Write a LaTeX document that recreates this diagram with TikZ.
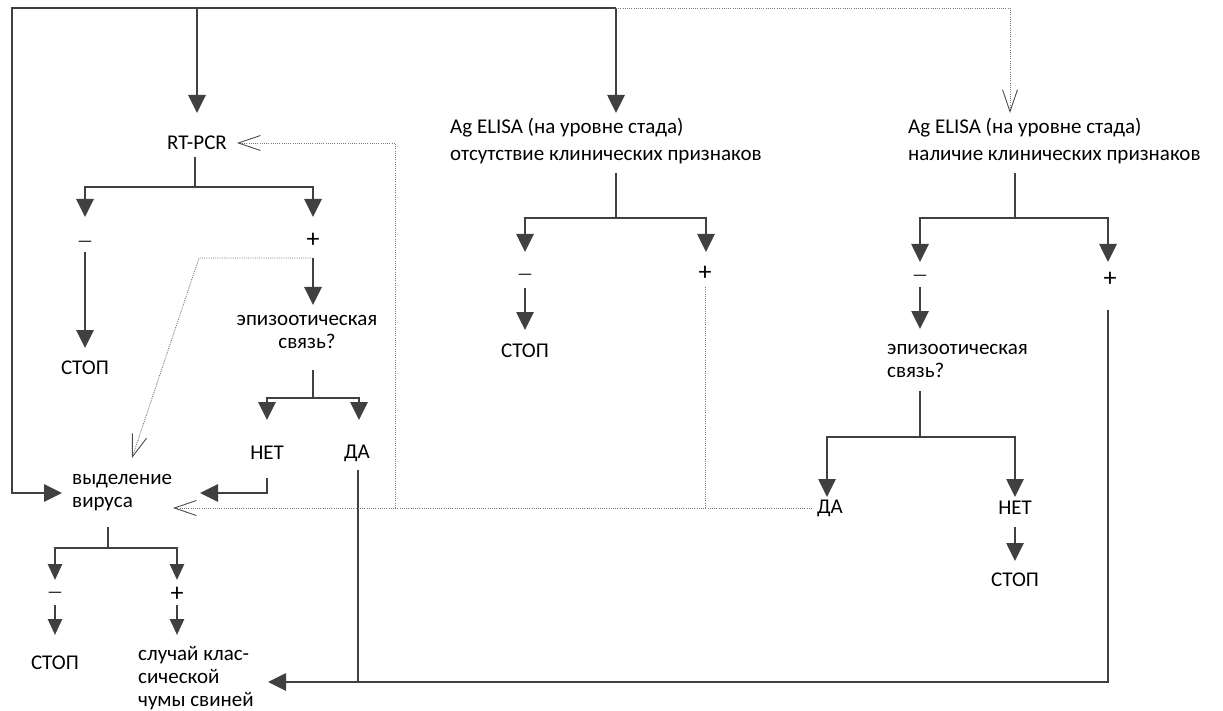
\documentclass[tikz,border=0pt]{standalone}
\usepackage{fontspec}
\setmainfont{Carlito}
\usetikzlibrary{arrows.meta}
\definecolor{lc}{HTML}{404040}
\definecolor{dc}{HTML}{7A7A7A}
\begin{document}
\begin{tikzpicture}[x=1pt,y=-1pt,
  txt/.style={inner sep=0pt, font=\fontsize{21}{23}\selectfont, text=black},
  txtw/.style={txt, font=\fontsize{21}{27}\selectfont},
  sgn/.style={inner sep=0pt, font=\fontsize{26}{26}\selectfont, text=black},
  msgn/.style={inner sep=0pt, font=\fontsize{17}{17}\selectfont, text=black},
  arr/.style={draw=lc, line width=2.7pt, -{Triangle[width=17pt,length=18pt]}},
  sarr/.style={draw=lc, line width=2.7pt, -{Triangle[width=14pt,length=16pt]}},
  ln/.style={draw=lc, line width=2.7pt},
  dotl/.style={draw=dc, line width=0.9pt, dash pattern=on 1pt off 1.2pt},
  oarr/.style={dotl, -{Straight Barb[length=22pt,width=15pt,line width=0.9pt,color=black!70]}}
]
\useasboundingbox (0,0) rectangle (1223,711);
\fill[white] (0,0) rectangle (1223,711);

% ---------- text nodes ----------
\node[txt] (rtpcr) at (197,143) {RT-PCR};
\node[txtw,align=left,anchor=west] (el1) at (450,141) {Ag ELISA (на уровне стада)\\отсутствие клинических признаков};
\node[txtw,align=left,anchor=west] (el2) at (908,141) {Ag ELISA (на уровне стада)\\наличие клинических признаков};

\node[msgn] (m1) at (85,244) {\textemdash};
\node[sgn] (p1) at (313,240) {+};
\node[txt] (stop1) at (85,368) {СТОП};
\node[txt,align=center] (epi1) at (307,332) {эпизоотическая\\связь?};
\node[txt] (net1) at (267,453) {НЕТ};
\node[txt] (da1) at (357,453) {ДА};

\node[txt,align=left,anchor=west] (virus) at (72,493) {выделение\\вируса};
\node[msgn] (m4) at (55,595) {\textemdash};
\node[sgn] (p4) at (177,594) {+};
\node[txt] (stop4) at (55,663) {СТОП};
\node[txt,align=left,anchor=west] (case) at (138,678) {случай клас-\\сической\\чумы свиней};

\node[msgn] (m2) at (525,277) {\textemdash};
\node[sgn] (p2) at (705,273) {+};
\node[txt] (stop2) at (525,351) {СТОП};

\node[msgn] (m3) at (920,278) {\textemdash};
\node[sgn] (p3) at (1110,279) {+};
\node[txt,align=left,anchor=west] (epi2) at (887,361) {эпизоотическая\\связь?};
\node[txt] (da3) at (830,508) {ДА};
\node[txt] (net3) at (1015,508) {НЕТ};
\node[txt] (stop3) at (1015,580) {СТОП};

% ---------- junction coordinates ----------
\coordinate (tl) at (12,8);
\coordinate (tm) at (616,8);
\coordinate (trc) at (197,8);
\coordinate (tr) at (1010,8);

% ---------- solid connectors ----------
\draw[arr] (tm) -- (tl) -- (12,493) -- (62,493);
\draw[arr] (trc) -- (197,113);
\draw[arr] (tm) -- (616,113);

% RT-PCR branch
\draw[ln] (195,157) -- (195,187);
\draw[arr] (195,187) -| (85,217);
\draw[arr] (195,187) -| (313,217);
\draw[arr] (85,252) -- (85,348);
\draw[arr] (313,258) -- (313,305);
\draw[ln] (313,370) -- (313,398);
\draw[arr] (313,398) -| (267,420);
\draw[arr] (313,398) -| (359,420);
\draw[arr] (267,478) -- (267,493) -- (200,493);
\draw[ln] (358,470) -- (358,682);

% virus isolation branch
\draw[ln] (108,527) -- (108,548);
\draw[sarr] (108,548) -| (55,580);
\draw[sarr] (108,548) -| (177,580);
\draw[sarr] (55,605) -- (55,635);
\draw[sarr] (177,605) -- (177,635);

% middle ELISA
\draw[ln] (616,173) -- (616,218);
\draw[arr] (616,218) -| (525,252);
\draw[arr] (616,218) -| (706,252);
\draw[arr] (525,288) -- (525,330);

% right ELISA
\draw[ln] (1015,173) -- (1015,218);
\draw[arr] (1015,218) -| (920,262);
\draw[arr] (1015,218) -| (1108,262);
\draw[arr] (920,287) -- (920,329);
\draw[ln] (920,391) -- (920,437);
\draw[arr] (920,437) -| (827,497);
\draw[arr] (920,437) -| (1015,497);
\draw[arr] (1015,527) -- (1015,561);
\draw[arr] (1108,310) -- (1108,682) -- (268,682);

% ---------- dotted connectors ----------
\draw[oarr] (tm) -- (tr) -- (1010,113);
\draw[oarr] (395,508) -- (395,143) -- (237,143);
\draw[oarr] (313,258) -- (199,258) -- (132,458);
\draw[oarr] (812,508) -- (173,508);
\draw[dotl] (705,287) -- (705,508);
\end{tikzpicture}
\end{document}
